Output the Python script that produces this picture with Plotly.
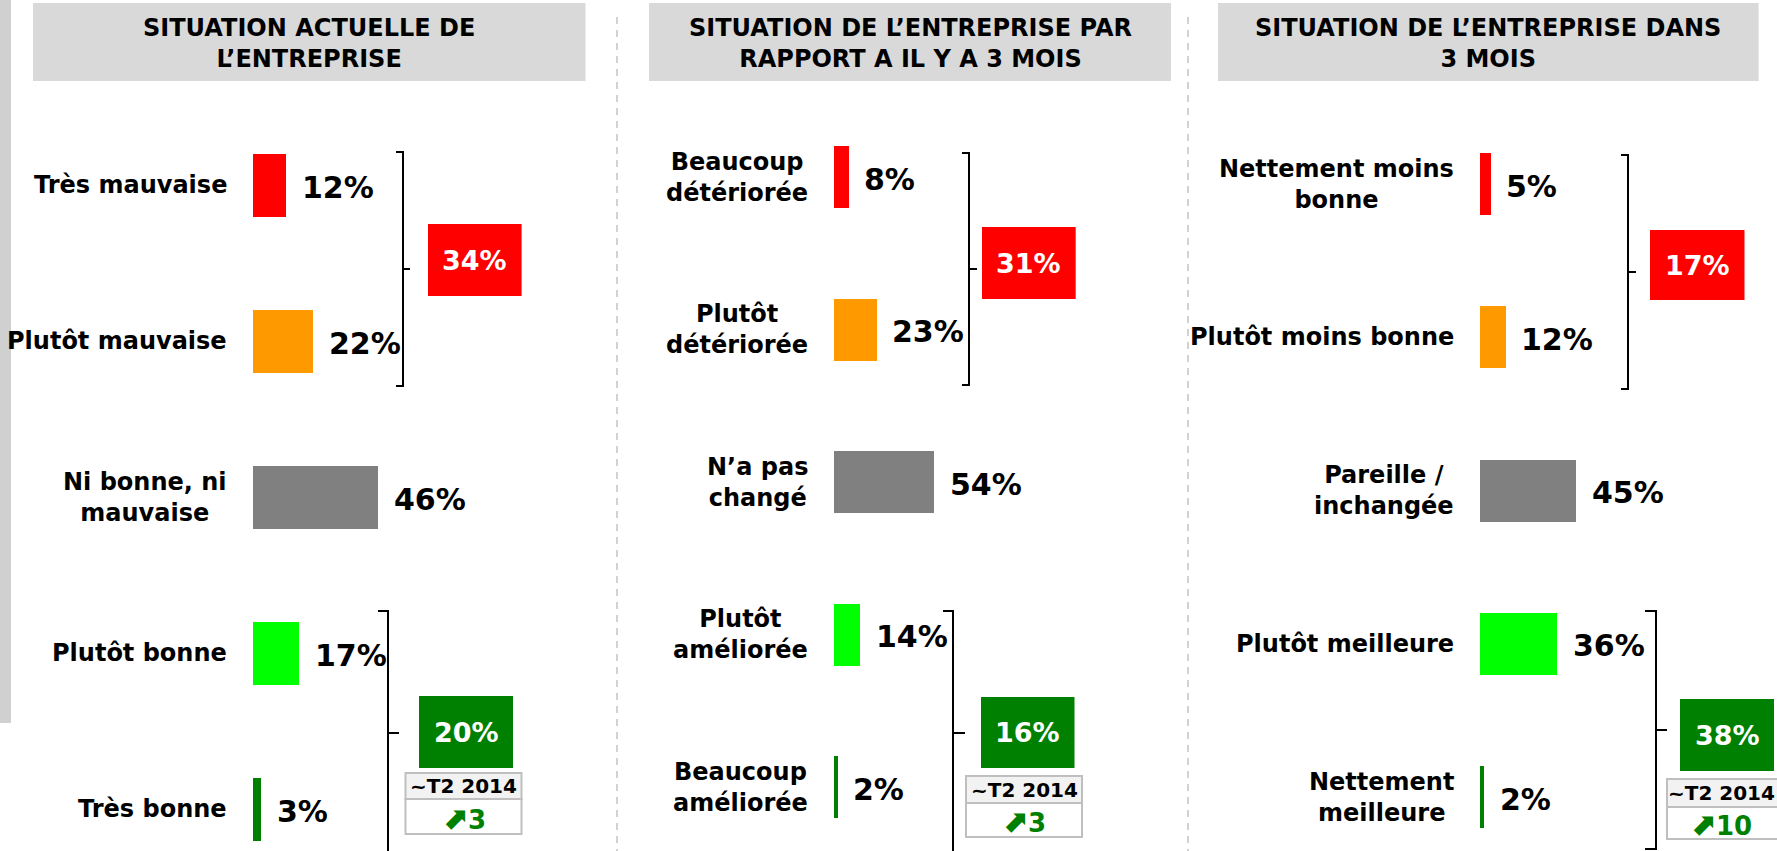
import plotly.graph_objects as go

W, H = 1777, 851

# ---------------- data ----------------
titles = [
    "SITUATION ACTUELLE DE<br>L’ENTREPRISE",
    "SITUATION DE L’ENTREPRISE PAR<br>RAPPORT A IL Y A 3 MOIS",
    "SITUATION DE L’ENTREPRISE DANS<br>3 MOIS",
]
labels_1 = ["Très mauvaise", "Plutôt mauvaise", "Ni bonne, ni<br>mauvaise", "Plutôt bonne", "Très bonne"]
labels_2 = ["Beaucoup<br>détériorée", "Plutôt<br>détériorée", "N’a pas<br>changé", "Plutôt<br>améliorée", "Beaucoup<br>améliorée"]
labels_3 = ["Nettement moins<br>bonne", "Plutôt moins bonne", "Pareille /<br>inchangée", "Plutôt meilleure", "Nettement<br>meilleure"]
values_1 = [12, 22, 46, 17, 3]
values_2 = [8, 23, 54, 14, 2]
values_3 = [5, 12, 45, 36, 2]
total_negative = [34, 31, 17]
total_positive = [20, 16, 38]
compare_label = "~T2 2014"
evolution = [3, 3, 10]
bar_colors = ["#FF0000", "#FF9900", "#808080", "#00FF00", "#008000"]

labels = [labels_1, labels_2, labels_3]
values = [values_1, values_2, values_3]

# ---------------- layout geometry (pixels) ----------------
FONT = "DejaVu Sans, Verdana, sans-serif"
panels = [
    dict(x0=253, xe=600, scale=2.71, yc0=185, ys=156.0, bh=63,
         header=(33, 585.5),
         neg_box=(428, 521.6, 224, 296), pos_box=(419, 513, 696, 768),
         table=(405.5, 521.5, 773, 799, 834), table_text_x=463.5,
         br_top=(403, 152, 386, 396, 410), br_bot=(388, 611, 855, 378, 399)),
    dict(x0=833.5, xe=1180, scale=1.86, yc0=177, ys=152.5, bh=62,
         header=(649, 1171),
         neg_box=(982, 1075.7, 227, 299), pos_box=(981, 1074.5, 697, 768),
         table=(966, 1082, 776, 803, 837), table_text_x=1024,
         br_top=(969, 153, 385, 962, 977), br_bot=(953, 611, 855, 943, 965)),
    dict(x0=1479.5, xe=1777, scale=2.14, yc0=184, ys=153.25, bh=62,
         header=(1218, 1758.6),
         neg_box=(1650, 1744.5, 230, 300), pos_box=(1680, 1774, 699, 771),
         table=(1667, 1783, 779, 807, 839), table_text_x=1721,
         br_top=(1628, 155, 389, 1621, 1636), br_bot=(1656, 611, 849, 1645, 1667)),
]


def PX(x):
    return x / W


def PY(y):
    return 1 - y / H


fig = go.Figure()
shapes = []
annotations = []
layout_axes = {}

# left grey strip
shapes.append(dict(type="rect", xref="paper", yref="paper", x0=PX(0), x1=PX(11), y0=PY(0), y1=PY(723),
                   fillcolor="#D0D0D0", line=dict(width=0), layer="below"))

# dashed separators
for xs in (617, 1188):
    shapes.append(dict(type="line", xref="paper", yref="paper", x0=PX(xs), x1=PX(xs), y0=PY(17), y1=PY(851),
                       line=dict(color="#C4C4C4", width=1.5, dash="7px,6px")))

for k, p in enumerate(panels):
    idx = "" if k == 0 else str(k + 1)
    xa, ya = "x" + idx, "y" + idx
    layout_axes["xaxis" + idx] = dict(domain=[PX(p["x0"]), PX(p["xe"])],
                                      range=[0, (p["xe"] - p["x0"]) / p["scale"]],
                                      visible=False, fixedrange=True, anchor=ya)
    layout_axes["yaxis" + idx] = dict(domain=[0, 1],
                                      range=[(H - p["yc0"]) / p["ys"], -p["yc0"] / p["ys"]],
                                      visible=False, fixedrange=True, anchor=xa)
    rows = list(range(len(values[k])))
    fig.add_trace(go.Bar(x=values[k], y=rows, orientation="h", width=p["bh"] / p["ys"],
                         marker=dict(color=bar_colors, line=dict(width=0)),
                         xaxis=xa, yaxis=ya, hoverinfo="skip", showlegend=False))

    # header box + title
    hx0, hx1 = p["header"]
    shapes.append(dict(type="rect", xref="paper", yref="paper", x0=PX(hx0), x1=PX(hx1), y0=PY(3), y1=PY(81),
                       fillcolor="#D9D9D9", line=dict(width=0), layer="below"))
    annotations.append(dict(xref="paper", yref="paper", x=PX((hx0 + hx1) / 2), y=PY(43),
                            text=titles[k], showarrow=False, align="center",
                            xanchor="center", yanchor="middle",
                            font=dict(family=FONT, size=24, color="#000", weight="bold")))

    # category labels and values
    for i, (lab, v) in enumerate(zip(labels[k], values[k])):
        annotations.append(dict(xref=xa, yref=ya, x=0, y=i, text=lab, showarrow=False,
                                xanchor="right", yanchor="middle", align="center", xshift=-24,
                                font=dict(family=FONT, size=24, color="#000", weight="bold")))
        annotations.append(dict(xref=xa, yref=ya, x=v, y=i, text=f"{v}%", showarrow=False,
                                xanchor="left", yanchor="middle", xshift=14, yshift=-2,
                                font=dict(family=FONT, size=30, color="#000", weight="bold")))

    # summary boxes
    for box, val, col in ((p["neg_box"], total_negative[k], "#FF0000"),
                          (p["pos_box"], total_positive[k], "#008000")):
        bx0, bx1, by0, by1 = box
        shapes.append(dict(type="rect", xref="paper", yref="paper", x0=PX(bx0), x1=PX(bx1),
                           y0=PY(by0), y1=PY(by1), fillcolor=col, line=dict(width=0)))
        annotations.append(dict(xref="paper", yref="paper", x=PX((bx0 + bx1) / 2), y=PY((by0 + by1) / 2),
                                text=f"{val}%", showarrow=False, xanchor="center", yanchor="middle",
                                font=dict(family=FONT, size=27, color="#FFFFFF", weight="bold")))

    # comparison table
    tx0, tx1, ty0, tym, ty1 = p["table"]
    tcx = p["table_text_x"]
    shapes.append(dict(type="rect", xref="paper", yref="paper", x0=PX(tx0), x1=PX(tx1), y0=PY(ty0), y1=PY(tym),
                       fillcolor="#F2F2F2", line=dict(color="#BFBFBF", width=2)))
    shapes.append(dict(type="rect", xref="paper", yref="paper", x0=PX(tx0), x1=PX(tx1), y0=PY(tym), y1=PY(ty1),
                       fillcolor="#FFFFFF", line=dict(color="#BFBFBF", width=2)))
    annotations.append(dict(xref="paper", yref="paper", x=PX(tcx), y=PY((ty0 + tym) / 2),
                            text=compare_label, showarrow=False, xanchor="center", yanchor="middle",
                            font=dict(family=FONT, size=20, color="#000", weight="bold")))
    annotations.append(dict(xref="paper", yref="paper", x=PX(tcx), y=PY((tym + ty1) / 2 + 1),
                            text=f"<span style='font-size:31px'>⬈</span>{evolution[k]}",
                            showarrow=False, xanchor="center", yanchor="middle",
                            font=dict(family=FONT, size=26, color="#008000", weight="bold")))

    # brackets
    for (bx, btop, bbot, bleft, bright) in (p["br_top"], p["br_bot"]):
        bmid = (btop + bbot) / 2
        path = (f"M {PX(bleft)},{PY(btop)} L {PX(bx)},{PY(btop)} L {PX(bx)},{PY(bbot)} L {PX(bleft)},{PY(bbot)} "
                f"M {PX(bx)},{PY(bmid)} L {PX(bright)},{PY(bmid)}")
        shapes.append(dict(type="path", xref="paper", yref="paper", path=path,
                           line=dict(color="#000000", width=2)))

fig.update_layout(
    width=W, height=H,
    margin=dict(l=0, r=0, t=0, b=0),
    paper_bgcolor="#FFFFFF", plot_bgcolor="rgba(0,0,0,0)",
    shapes=shapes, annotations=annotations,
    barmode="overlay", bargap=0,
    font=dict(family=FONT),
    **layout_axes,
)

fig.write_html("out.html", config={"displayModeBar": False},
               post_script="document.body.style.margin='0px';document.body.style.overflow='hidden';")
